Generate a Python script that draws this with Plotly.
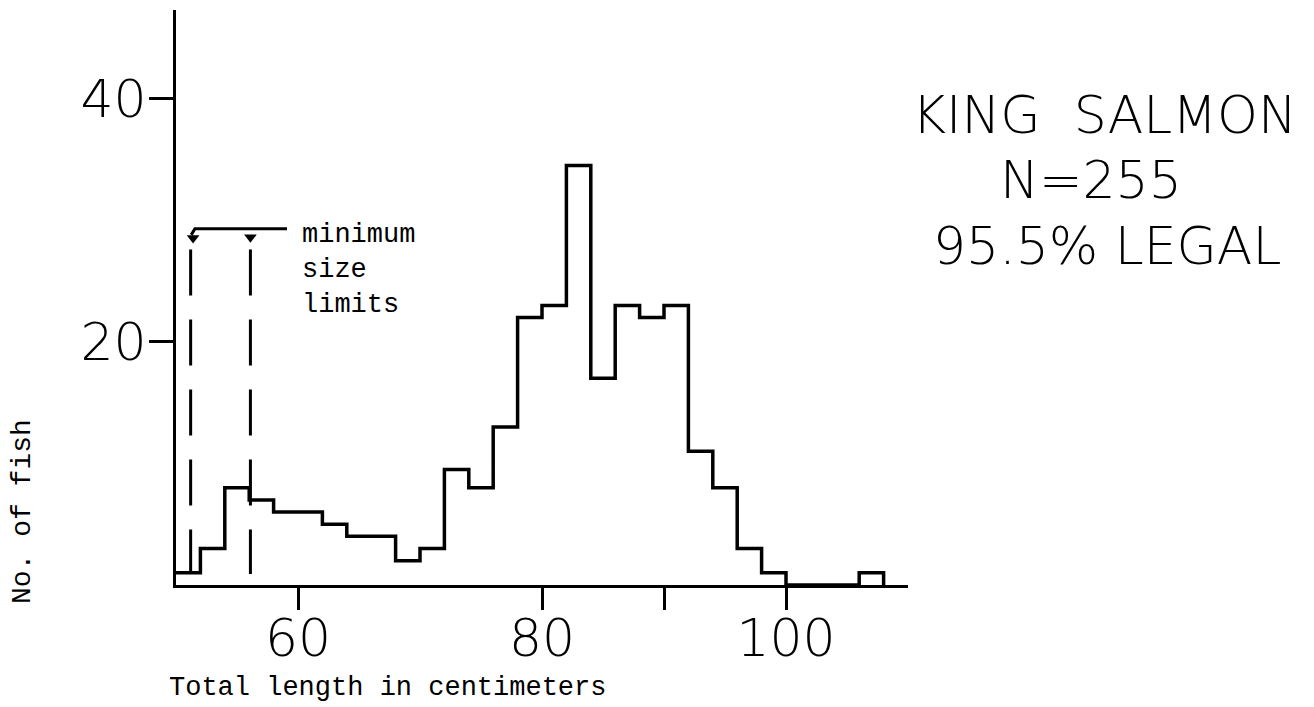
import plotly.graph_objects as go

# ---- data ----
bin_left = [50, 52, 54, 56, 58, 60, 62, 64, 66, 68, 70, 72, 74, 76, 78, 80, 82, 84,
            86, 88, 90, 92, 94, 96, 98, 100, 102, 104, 106]
counts = [1, 3, 8, 7, 6, 6, 5, 4, 4, 2, 3, 9.5, 8, 13, 22, 23, 34.5, 17,
          23, 22, 23, 11, 8, 3, 1, 0, 0, 0, 1]
bin_width = 2
size_limits = [51.2, 56.1]          # minimum size limits (cm)
limit_top = 27.6                    # top of dashed limit lines
arrow_y = 29.3
x_tickvals = [60, 80, 90, 100]
x_ticktext = ["60", "80", "", "100"]
y_tickvals = [20, 40]
y_ticktext = ["20", "40"]

LET = "DejaVu Sans"
TYPE = "Liberation Mono"

# step outline
xs = bin_left + [bin_left[-1] + bin_width]
ys = counts + [0]

fig = go.Figure()
fig.add_trace(go.Scatter(x=xs, y=ys, mode="lines", line=dict(shape="hv", color="black", width=3.5),
                         hoverinfo="skip", cliponaxis=False))

# dashed minimum-size lines
for xl in size_limits:
    fig.add_trace(go.Scatter(x=[xl, xl], y=[limit_top, 0.9], mode="lines",
                             line=dict(color="black", width=3, dash="46px,24px"), hoverinfo="skip"))

# arrow line
fig.add_trace(go.Scatter(x=[size_limits[0] + 0.05, size_limits[0] + 0.35, 59.1],
                         y=[arrow_y - 0.5, arrow_y, arrow_y], mode="lines",
                         line=dict(color="black", width=3), hoverinfo="skip"))
fig.add_trace(go.Scatter(x=[size_limits[0] + 0.2, size_limits[1]], y=[arrow_y - 0.75, arrow_y - 0.7],
                         mode="markers", marker=dict(symbol="triangle-down", size=11, color="black"),
                         hoverinfo="skip"))

W, H = 1314, 707
L, R, T, B = 176, 406, 10, 122
pw, ph = W - L - R, H - T - B


def px(xp):
    return (xp - L) / pw


def py(yp):
    return (H - B - yp) / ph


fig.update_layout(
    width=W, height=H,
    margin=dict(l=L, r=R, t=T, b=B),
    plot_bgcolor="white", paper_bgcolor="white",
    showlegend=False,
    xaxis=dict(range=[50, 110], showgrid=False, zeroline=False, showline=True, linecolor="black",
               linewidth=3, ticks="outside", ticklen=22, tickwidth=3, tickcolor="black",
               tickvals=x_tickvals, ticktext=x_ticktext, ticklabelstandoff=-16,
               tickfont=dict(family=LET, size=52, color="black", weight=200)),
    yaxis=dict(range=[0, 47.3], showgrid=False, zeroline=False, showline=True, linecolor="black",
               linewidth=3, ticks="outside", ticklen=24, tickwidth=3, tickcolor="black",
               tickvals=y_tickvals, ticktext=y_ticktext, ticklabelstandoff=-8,
               tickfont=dict(family=LET, size=52, color="black", weight=200)),
)

ann = [
    dict(text="minimum<br>size<br>limits", x=60.2, y=25.9, xref="x", yref="y", xanchor="left",
         yanchor="middle", align="left", showarrow=False,
         font=dict(family=TYPE, size=27, color="black")),
    dict(text="Total length in centimeters", x=px(387), y=py(688), xref="paper", yref="paper",
         xanchor="center", yanchor="middle", showarrow=False,
         font=dict(family=TYPE, size=27, color="black")),
    dict(text="No. of fish", x=px(22), y=py(512), xref="paper", yref="paper", textangle=-90,
         xanchor="center", yanchor="middle", showarrow=False,
         font=dict(family=TYPE, size=28, color="black")),
    dict(text="KING\u00a0\u00a0SALMON", x=px(1104), y=py(115), xref="paper", yref="paper",
         xanchor="center", yanchor="middle", showarrow=False,
         font=dict(family=LET, size=52, color="black", weight=200)),
    dict(text="N=255", x=px(1091), y=py(180), xref="paper", yref="paper",
         xanchor="center", yanchor="middle", showarrow=False,
         font=dict(family=LET, size=52, color="black", weight=200)),
    dict(text="95.5% LEGAL", x=px(1107), y=py(246), xref="paper", yref="paper",
         xanchor="center", yanchor="middle", showarrow=False,
         font=dict(family=LET, size=52, color="black", weight=200)),
]
fig.update_layout(annotations=ann)

fig.write_html("out.html")
